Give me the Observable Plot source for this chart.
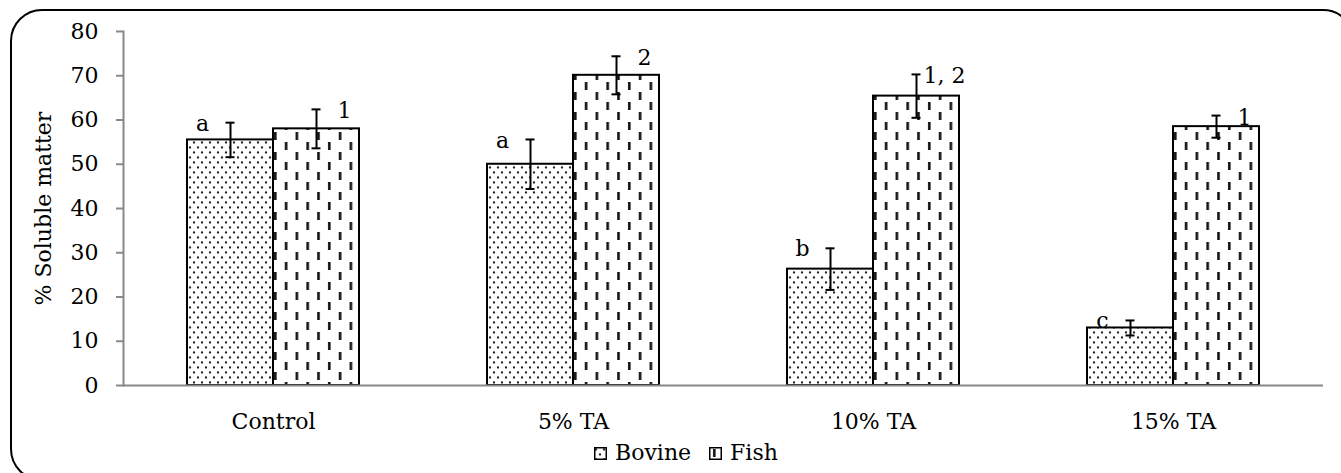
<!DOCTYPE html>
<html>
<head>
<meta charset="utf-8">
<script src="https://cdn.jsdelivr.net/npm/d3@7"></script>
<script src="https://cdn.jsdelivr.net/npm/@observablehq/plot@0.6"></script>
<style>
  html, body { margin: 0; padding: 0; background: #fff; }
  body { width: 1341px; height: 473px; overflow: hidden; position: relative; font-family: "DejaVu Serif", serif; }
  #frame { position: absolute; left: 10px; top: 9px; width: 1345px; height: 472px; border: 2px solid #000; border-radius: 32px; box-sizing: border-box; }
  #chart { position: absolute; left: 0; top: 0; }
  #legend { position: absolute; top: 441px; left: 594px; display: flex; align-items: center; font-size: 22px; color: #000; line-height: 24px; }
  #legend .item { display: flex; align-items: center; margin-right: 18px; }
  #legend svg { margin-right: 8px; }
</style>
</head>
<body>
<div id="frame"></div>
<svg width="0" height="0" style="position:absolute">
  <defs>
    <pattern id="dots" patternUnits="userSpaceOnUse" width="8" height="10">
      <rect width="8" height="10" fill="#fff"/>
      <circle cx="2" cy="2.5" r="1.15" fill="#222"/>
      <circle cx="6" cy="7.5" r="1.15" fill="#222"/>
    </pattern>
    <pattern id="dashes" patternUnits="userSpaceOnUse" width="21.6" height="20">
      <rect width="21.6" height="20" fill="#fff"/>
      <rect x="4" y="2" width="2.6" height="8" fill="#111"/>
      <rect x="14.8" y="12" width="2.6" height="8" fill="#111"/>
    </pattern>
  </defs>
</svg>
<div id="chart"></div>
<div id="legend">
  <div class="item"><svg width="13" height="13"><rect x="0.75" y="0.75" width="11.5" height="11.5" fill="url(#dots)" stroke="#000" stroke-width="1.5"/></svg><span>Bovine</span></div>
  <div class="item"><svg width="13" height="13"><rect x="0.75" y="0.75" width="11.5" height="11.5" fill="url(#dashes)" stroke="#000" stroke-width="1.5"/></svg><span>Fish</span></div>
</div>
<script>
const groups = ["Control", "5% TA", "10% TA", "15% TA"];
const series = ["Bovine", "Fish"];
const bovineValues = [55.5, 50.0, 26.3, 13.0];
const bovineErrors = [3.9, 5.6, 4.7, 1.7];
const bovineLabels = ["a", "a", "b", "c"];
const fishValues = [58.0, 70.1, 65.4, 58.5];
const fishErrors = [4.4, 4.3, 4.9, 2.5];
const fishLabels = ["1", "2", "1, 2", "1"];
const yTicks = [0, 10, 20, 30, 40, 50, 60, 70, 80];

const bovine = groups.map((g, i) => ({group: g, type: "Bovine", value: bovineValues[i], lo: bovineValues[i] - bovineErrors[i], hi: bovineValues[i] + bovineErrors[i], label: bovineLabels[i]}));
const fish = groups.map((g, i) => ({group: g, type: "Fish", value: fishValues[i], lo: fishValues[i] - fishErrors[i], hi: fishValues[i] + fishErrors[i], label: fishLabels[i]}));
const all = bovine.concat(fish);

const plot = Plot.plot({
  width: 1341,
  height: 435,
  marginLeft: 123,
  marginRight: 18,
  marginTop: 31,
  marginBottom: 50,
  style: {fontFamily: "DejaVu Serif", fontSize: "22px", color: "#000", background: "transparent"},
  fx: {domain: groups, padding: 0, label: null},
  x: {domain: series, paddingInner: 0, paddingOuter: 0.744, axis: null},
  y: {domain: [0, 80]},
  marks: [
    Plot.barY(bovine, {fx: "group", x: "type", y: "value", fill: "url(#dots)", stroke: "#000", strokeWidth: 2}),
    Plot.barY(fish, {fx: "group", x: "type", y: "value", fill: "url(#dashes)", stroke: "#000", strokeWidth: 2}),
    Plot.ruleY([0], {stroke: "#888", strokeWidth: 2}),
    Plot.frame({anchor: "left", facetAnchor: "left", stroke: "#888", strokeWidth: 2}),
    Plot.ruleX(all, {fx: "group", x: "type", y1: "lo", y2: "hi", stroke: "#000", strokeWidth: 2}),
    Plot.tickY(all, {fx: "group", x: "type", y: "lo", insetLeft: 38.5, insetRight: 38.5, stroke: "#000", strokeWidth: 2}),
    Plot.tickY(all, {fx: "group", x: "type", y: "hi", insetLeft: 38.5, insetRight: 38.5, stroke: "#000", strokeWidth: 2}),
    Plot.text(bovine, {fx: "group", x: "type", y: "hi", text: "label", dx: -28, dy: 1, fontSize: 22, fill: "#000"}),
    Plot.text(fish, {fx: "group", x: "type", y: "hi", text: "label", dx: 28, dy: 2, fontSize: 22, fill: "#000"}),
    Plot.axisY({ticks: yTicks, tickSize: 7, tickPadding: 18, stroke: "#888", fill: "#000", strokeWidth: 2,
      label: "% Soluble matter", labelAnchor: "center", labelArrow: "none", labelOffset: 88, fontSize: 22}),
    Plot.axisFx({anchor: "bottom", tickSize: 0, tickPadding: 28, label: null, fontSize: 22, fill: "#000"})
  ]
});
document.getElementById("chart").appendChild(plot);
</script>
</body>
</html>
